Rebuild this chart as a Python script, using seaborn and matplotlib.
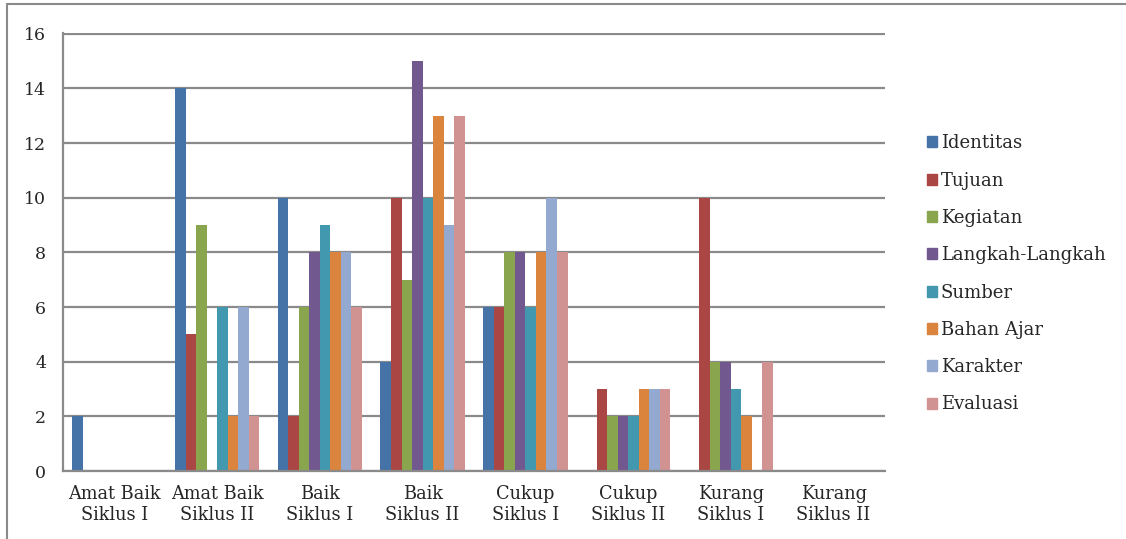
import pandas as pd
import numpy as np
import matplotlib
matplotlib.use("Agg")
import matplotlib.pyplot as plt
import seaborn as sns
from matplotlib.lines import Line2D

categories = ["Amat Baik\nSiklus I", "Amat Baik\nSiklus II", "Baik\nSiklus I", "Baik\nSiklus II",
              "Cukup\nSiklus I", "Cukup\nSiklus II", "Kurang\nSiklus I", "Kurang\nSiklus II"]
series = ["Identitas", "Tujuan", "Kegiatan", "Langkah-Langkah",
          "Sumber", "Bahan Ajar", "Karakter", "Evaluasi"]

identitas = [2, 14, 10, 4, 6, 0, 0, 0]
tujuan = [0, 5, 2, 10, 6, 3, 10, 0]
kegiatan = [0, 9, 6, 7, 8, 2, 4, 0]
langkah = [0, 0, 8, 15, 8, 2, 4, 0]
sumber = [0, 6, 9, 10, 6, 2, 3, 0]
bahan_ajar = [0, 2, 8, 13, 8, 3, 2, 0]
karakter = [0, 6, 8, 9, 10, 3, 0, 0]
evaluasi = [0, 2, 6, 13, 8, 3, 4, 0]

colors = ["#4572A7", "#AA4643", "#89A54E", "#71588F",
          "#4198AF", "#DB843D", "#93A9CF", "#D19392"]

values = [identitas, tujuan, kegiatan, langkah, sumber, bahan_ajar, karakter, evaluasi]
rows = []
for name, vals in zip(series, values):
    for cat, v in zip(categories, vals):
        rows.append({"Kategori": cat, "Aspek": name, "Nilai": v})
df = pd.DataFrame(rows)

sns.set_style("white")
plt.rcParams["font.family"] = ["DejaVu Serif"]

fig = plt.figure(figsize=(11.26, 5.39), dpi=100)
ax = fig.add_axes([63 / 1126, 68 / 539, (885 - 63) / 1126, (471 - 33) / 539])

sns.barplot(data=df, x="Kategori", y="Nilai", hue="Aspek", order=categories,
            hue_order=series, palette=colors, width=0.82, saturation=1,
            linewidth=0, ax=ax)

ax.set_ylim(0, 16.03)
ax.set_yticks(range(0, 17, 2))
ax.set_xlim(-0.5, len(categories) - 0.5)
ax.set_xlabel("")
ax.set_ylabel("")
ax.yaxis.grid(True, color="#8a8a8a", linewidth=1.6)
ax.set_axisbelow(True)
for s in ["top", "right"]:
    ax.spines[s].set_visible(False)
for s in ["left", "bottom"]:
    ax.spines[s].set_color("#8a8a8a")
    ax.spines[s].set_linewidth(1.6)
ax.tick_params(axis="y", length=0, pad=12, labelsize=12.5)
ax.tick_params(axis="x", length=0, pad=10, labelsize=12.8)
for lbl in ax.get_xticklabels():
    lbl.set_multialignment("center")
    lbl.set_linespacing(1.25)

ax.get_legend().remove()
handles = [plt.Rectangle((0, 0), 1, 1, color=c) for c in colors]
fig.legend(handles, series, loc="upper left", bbox_to_anchor=(920 / 1126, 1 - 127 / 539),
           frameon=False, fontsize=13, handlelength=0.55, handleheight=0.55,
           handletextpad=0.2, labelspacing=1.07, borderaxespad=0)

# outer frame of the chart object
fig.add_artist(Line2D([7 / 1126, 7 / 1126], [0, 1 - 4 / 539], transform=fig.transFigure,
                      color="#8a8a8a", linewidth=1.5))
fig.add_artist(Line2D([7 / 1126, 1], [1 - 4 / 539, 1 - 4 / 539], transform=fig.transFigure,
                      color="#8a8a8a", linewidth=1.5))

fig.savefig("out.png", dpi=100)
